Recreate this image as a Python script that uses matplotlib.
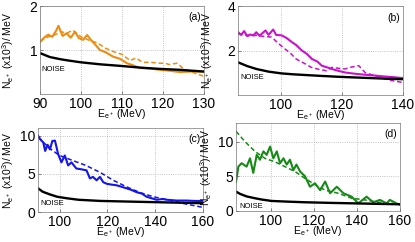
import matplotlib
matplotlib.use("Agg")
import matplotlib.pyplot as plt

plt.rcParams['font.family'] = ['Liberation Sans', 'DejaVu Sans']
plt.rcParams['mathtext.fontset'] = 'custom'
plt.rcParams['mathtext.rm'] = 'Liberation Sans'
plt.rcParams['mathtext.it'] = 'Liberation Sans'

# ---- panel (a) ----
a_x = [90, 91, 92, 93, 94, 94.5, 95.5, 96.5, 97.5, 98.5, 99.5, 100.5, 101.5, 102.5, 103.5,
       104.6, 106, 107.8, 109.5, 111.2, 112.5, 114.4, 116.5, 119.3, 121.5, 124, 127, 130]
a_solid = [1.18, 1.28, 1.35, 1.30, 1.45, 1.55, 1.32, 1.38, 1.28, 1.41, 1.27, 1.23, 1.34, 1.22, 1.12,
           1.00, 0.95, 0.85, 0.80, 0.70, 0.66, 0.59, 0.58, 0.55, 0.53, 0.50, 0.51, 0.51]
a_dash_x = [90, 92, 94, 95, 96.5, 98, 100, 102, 104, 106, 108, 110, 112, 113.4, 115, 117,
            119, 120.5, 121.5, 123.5, 125, 126.5, 128.5, 130]
a_dash = [1.20, 1.30, 1.36, 1.42, 1.38, 1.45, 1.30, 1.22, 1.16, 1.04, 0.96, 0.90, 0.76, 0.82, 0.72, 0.72,
          0.70, 0.70, 0.67, 0.70, 0.57, 0.52, 0.45, 0.40]
a_noise_x = [90, 92.4, 95, 97, 100, 104.6, 109.5, 114.4, 119.3, 124, 130]
a_noise = [0.93, 0.84, 0.79, 0.76, 0.72, 0.675, 0.64, 0.60, 0.57, 0.55, 0.51]

# ---- panel (b) ----
b_x = [86, 87, 88, 89, 90, 91, 92, 93, 94, 95, 96, 97.5, 98.5, 100.3, 102, 103.6, 105, 106.9,
       108.5, 110.2, 112, 113.4, 115, 116.7, 119, 121.1, 124, 127.6, 131, 134.2, 137, 140]
b_solid = [2.83, 2.70, 2.87, 2.65, 2.72, 2.68, 2.82, 2.66, 2.78, 2.90, 2.70, 2.94, 2.70, 2.68, 2.55, 2.38,
           2.25, 2.00, 1.85, 1.62, 1.50, 1.32, 1.25, 1.17, 1.08, 1.01, 0.96, 0.91, 0.87, 0.83, 0.80, 0.76]
b_dash_x = [86, 88, 90, 92, 94, 97, 100.6, 103, 105, 108, 110, 112.5, 115, 116.7, 119, 121, 123,
            125.5, 127.6, 130, 133, 136, 140]
b_dash = [2.75, 2.70, 2.66, 2.68, 2.64, 2.60, 2.15, 1.90, 1.62, 1.40, 1.24, 1.15, 1.09, 1.24, 1.20, 1.17,
          1.25, 1.32, 1.01, 0.90, 0.76, 0.66, 0.56]
b_noise_x = [86, 89, 92, 96, 100.3, 104, 107.8, 113, 118.7, 124, 129.6, 135, 140]
b_noise = [1.47, 1.30, 1.17, 1.05, 0.97, 0.93, 0.90, 0.86, 0.82, 0.79, 0.76, 0.73, 0.71]

# ---- panel (c) ----
c_x = [91, 92, 93.2, 94, 95, 96, 97, 98.1, 99.4, 100.8, 102.2, 103.6, 105, 107, 109, 111.3, 112.7,
       114, 115.5, 116.9, 118.3, 119.7, 121.5, 123.8, 126, 128, 130, 132.2, 134.5, 136.4, 138.5,
       140.6, 143, 145, 149, 153, 156.5, 160]
c_solid = [10.0, 9.5, 9.1, 8.0, 8.8, 8.2, 9.3, 9.35, 7.6, 6.5, 7.4, 6.1, 6.5, 5.7, 5.6, 5.45, 4.4,
           4.6, 4.15, 4.6, 3.9, 3.7, 3.6, 3.5, 3.3, 3.1, 2.9, 2.6, 2.4, 2.0, 1.8, 1.6, 1.7, 1.6, 1.5,
           1.5, 1.45, 1.45]
c_dash_x = [91, 96, 100, 105.5, 111, 116.9, 122.5, 128, 133.6, 139.2, 145, 152, 160]
c_dash = [9.8, 8.3, 7.4, 6.75, 6.1, 5.2, 4.15, 3.3, 2.55, 2.0, 1.6, 1.1, 0.6]
c_noise_x = [91, 93, 96, 99, 103, 108, 117, 128, 138, 150, 160]
c_noise = [3.1, 2.65, 2.3, 2.0, 1.8, 1.6, 1.45, 1.37, 1.3, 1.22, 1.15]

# ---- panel (d) ----
d_x = [84, 85.1, 86.6, 88.9, 90.5, 92, 93.6, 95.1, 96.7, 98.2, 99.8, 101.3, 102.9, 104.4, 106,
       107.5, 109, 110.6, 112, 113.7, 116, 118.3, 120.6, 123, 125.3, 127.6, 130.7, 133.8, 137.6,
       140.7, 144.5, 147.6, 150.7, 153.8, 155.3, 158.4, 160]
d_solid = [4.2, 6.4, 6.9, 6.4, 7.6, 5.5, 8.1, 7.4, 8.6, 8.1, 9.3, 7.6, 8.6, 6.9, 7.6,
           6.7, 7.4, 5.9, 6.7, 5.7, 5.0, 3.5, 4.0, 3.0, 4.25, 2.56, 3.5, 2.56, 2.07,
           1.1, 2.07, 1.26, 1.6, 1.1, 1.6, 1.1, 0.9]
d_dash_x = [84, 88.2, 92.8, 97.4, 102, 106.7, 111.3, 116, 120.6, 125.3, 131.4, 137.6, 143.7,
            149.9, 156, 160]
d_dash = [11.5, 10.0, 8.6, 7.6, 7.1, 6.4, 5.7, 4.7, 3.8, 3.0, 2.56, 1.84, 1.6, 1.26, 1.1, 0.97]
d_noise_x = [84, 86, 89, 92.8, 96, 100.5, 108, 116, 128, 139, 150, 160]
d_noise = [2.8, 2.45, 2.1, 1.84, 1.65, 1.45, 1.35, 1.26, 1.17, 1.1, 1.03, 0.97]

panels = [
    dict(pos=(40, 94, 164, 88), xlim=(90, 130), ylim=(0, 2), xt=[90, 100, 110, 120, 130], yt=[1, 2],
         color='#ee8c10', x=a_x, s=a_solid, dx=a_dash_x, d=a_dash, nx=a_noise_x, n=a_noise,
         tag='(a)', noise_at=(90.4, 0.55), ylx=-0.145),
    dict(pos=(238, 95, 165, 89), xlim=(86, 140), ylim=(0, 4), xt=[100, 120, 140], yt=[2, 4],
         color='#cc10cc', x=b_x, s=b_solid, dx=b_dash_x, d=b_dash, nx=b_noise_x, n=b_noise,
         tag='(b)', noise_at=(86.8, 0.78), ylx=-0.14),
    dict(pos=(38, 212, 165, 84), xlim=(91, 160), ylim=(0, 11), xt=[100, 120, 140, 160], yt=[0, 5, 10],
         color='#1414ee', x=c_x, s=c_solid, dx=c_dash_x, d=c_dash, nx=c_noise_x, n=c_noise,
         tag='(c)', noise_at=(92, 1.15), ylx=-0.132),
    dict(pos=(236, 211, 164, 88), xlim=(84, 160), ylim=(0, 12.7), xt=[100, 120, 140, 160], yt=[0, 5, 10],
         color='#168a16', x=d_x, s=d_solid, dx=d_dash_x, d=d_dash, nx=d_noise_x, n=d_noise,
         tag='(d)', noise_at=(85.5, 0.6), ylx=-0.135),
]

W, H = 415, 242
fig = plt.figure(figsize=(W / 100, H / 100), dpi=100)

for p in panels:
    l, b, w, h = p['pos']
    ax = fig.add_axes([l / W, (H - b) / H, w / W, h / H])
    ax.plot(p['dx'], p['d'], '--', color=p['color'], lw=1.1, dashes=(3, 1.8))
    ax.plot(p['x'], p['s'], '-', color=p['color'], lw=1.5)
    ax.plot(p['nx'], p['n'], '-', color='black', lw=1.7)
    ax.set_xlim(p['xlim'])
    ax.set_ylim(p['ylim'])
    ax.set_xticks(p['xt'])
    ax.set_yticks(p['yt'])
    ax.grid(True, linestyle=':', color='#b0b0b0', lw=0.6)
    ax.tick_params(direction='in', length=2, width=0.5, labelsize=10, pad=2, color='#555555')
    for sp in ax.spines.values():
        sp.set_linewidth(0.5)
        sp.set_color('#777777')
    ax.text(p['noise_at'][0], p['noise_at'][1], 'NOISE', fontsize=5.5, va='center')
    ax.text(0.985, 0.87, p['tag'], transform=ax.transAxes, ha='right', va='center', fontsize=7.5)
    ax.set_ylabel('N$_{e^+}$ (x10$^3$)/ MeV', fontsize=7.5)
    ax.yaxis.set_label_coords(p['ylx'], 0.5)
    ax.set_xlabel('E$_{e^+}$ (MeV)', fontsize=7.5, labelpad=-3)

fig.savefig('out.png', dpi=100)
